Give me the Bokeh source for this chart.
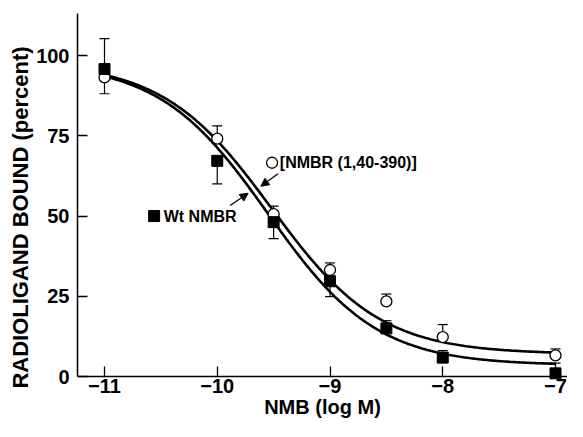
import numpy as np
from bokeh.plotting import figure
from bokeh.models import (ColumnDataSource, Whisker, TeeHead, Arrow, NormalHead,
                          Range1d, FixedTicker)
from bokeh.core.properties import value
from bokeh.embed import file_html
from bokeh.resources import INLINE

# ---- data ----
log_conc = [-11, -10, -9.5, -9, -8.5, -8, -7]

wt_bound = [95.8, 67.2, 48.1, 29.7, 15.0, 5.9, 1.0]
wt_upper = [105.3, 67.2, 48.1, 29.7, 17.4, 8.1, 4.2]
wt_lower = [95.8, 60.0, 43.0, 24.9, 15.0, 5.9, 1.0]

mut_bound = [93.2, 74.1, 50.6, 33.2, 23.4, 12.3, 6.6]
mut_upper = [93.2, 78.1, 53.1, 35.4, 25.7, 16.2, 8.6]
mut_lower = [88.1, 74.1, 50.6, 33.2, 23.4, 12.3, 6.6]

# fitted competition curves: [top, bottom, logIC50, hill slope]
wt_fit = [98.0, 3.5, -9.55, 0.9]
mut_fit = [98.0, 7.0, -9.52, 0.9]
curve_span = [-11, -7]

x_ticks = [-11, -10, -9, -8, -7]
x_tick_labels = ["\u221211", "\u221210", "\u22129", "\u22128", "\u22127"]
y_ticks = [0, 25, 50, 75, 100]

mut_label = "[NMBR (1,40-390)]"
wt_label = "Wt NMBR"

FONT = "Liberation Sans"
Y_TOP = 113.1


def hill(x, top, bottom, c, h):
    return bottom + (top - bottom) / (1 + 10 ** ((x - c) * h))


p = figure(width=567, height=421, output_backend="svg", toolbar_location=None,
           x_range=Range1d(-11.2395, -6.8936), y_range=Range1d(-14.0, Y_TOP),
           min_border_left=77, min_border_right=0, min_border_top=13,
           min_border_bottom=0)
p.outline_line_color = None
p.xgrid.visible = False
p.ygrid.visible = False
p.background_fill_color = "white"
p.border_fill_color = "white"

# axes
for ax in (p.xaxis[0], p.yaxis[0]):
    ax.axis_line_width = 1.5
    ax.axis_line_color = "black"
    ax.major_tick_line_width = 1.3
    ax.major_tick_line_color = "black"
    ax.major_tick_in = 10
    ax.major_tick_out = 0
    ax.minor_tick_line_color = None
    ax.major_label_text_font = FONT
    ax.major_label_text_font_style = "bold"
    ax.major_label_text_font_size = "20px"
    ax.major_label_text_color = "black"
    ax.axis_label_text_font = FONT
    ax.axis_label_text_font_style = "bold"
    ax.axis_label_text_color = "black"

p.xaxis.fixed_location = 0
p.xaxis.ticker = FixedTicker(ticks=x_ticks)
p.xaxis.major_label_overrides = dict(zip(x_ticks, x_tick_labels))
p.xaxis.axis_label = "NMB (log M)"
p.xaxis.axis_label_text_font_size = "20px"
p.xaxis.major_label_standoff = 2
p.xaxis.axis_label_standoff = 0

p.yaxis.ticker = FixedTicker(ticks=y_ticks)
p.yaxis.bounds = (0, Y_TOP)
p.yaxis.axis_label = "RADIOLIGAND BOUND (percent)"
p.yaxis.axis_label_text_font_size = "22px"
p.yaxis.major_label_standoff = 8
p.yaxis.axis_label_standoff = 0

# fitted curves
xc = np.linspace(curve_span[0], curve_span[1], 300)
p.line(xc, hill(xc, *wt_fit), line_color="black", line_width=2.6)
p.line(xc, hill(xc, *mut_fit), line_color="black", line_width=2.6)

# error bars
wt_src = ColumnDataSource(dict(x=log_conc, y=wt_bound, upper=wt_upper, lower=wt_lower))
mut_src = ColumnDataSource(dict(x=log_conc, y=mut_bound, upper=mut_upper, lower=mut_lower))
for src in (wt_src, mut_src):
    w = Whisker(source=src, base="x", upper="upper", lower="lower",
                dimension="height", line_width=1.2, line_color="black",
                upper_head=TeeHead(size=10, line_width=1.2, line_color="black"),
                lower_head=TeeHead(size=10, line_width=1.2, line_color="black"),
                level="underlay")
    p.add_layout(w)

# markers
p.scatter("x", "y", source=mut_src, marker="circle", size=11,
          fill_color="white", line_color="black", line_width=1.3)
p.scatter("x", "y", source=wt_src, marker="square", size=11,
          fill_color="black", line_color="black", line_width=1)

# annotations
p.scatter([-9.514], [66.6], marker="circle", size=11, fill_color="white",
          line_color="black", line_width=1.3)
p.text([-9.445], [66.6], text=[mut_label], text_font=value(FONT),
       text_font_style="bold", text_font_size="16px", text_baseline="middle",
       text_align="left", text_color="black")
p.scatter([-10.56], [50.0], marker="square", size=11, fill_color="black",
          line_color="black")
p.text([-10.475], [50.0], text=[wt_label], text_font=value(FONT),
       text_font_style="bold", text_font_size="16px", text_baseline="middle",
       text_align="left", text_color="black")

p.add_layout(Arrow(end=NormalHead(size=8, fill_color="black", line_color="black"),
                   x_start=-9.461, y_start=63.2, x_end=-9.613, y_end=59.3,
                   line_width=1.3, line_color="black"))
p.add_layout(Arrow(end=NormalHead(size=8, fill_color="black", line_color="black"),
                   x_start=-9.886, y_start=53.3, x_end=-9.726, y_end=57.1,
                   line_width=1.3, line_color="black"))

open("out.html", "w").write(file_html(p, INLINE))
